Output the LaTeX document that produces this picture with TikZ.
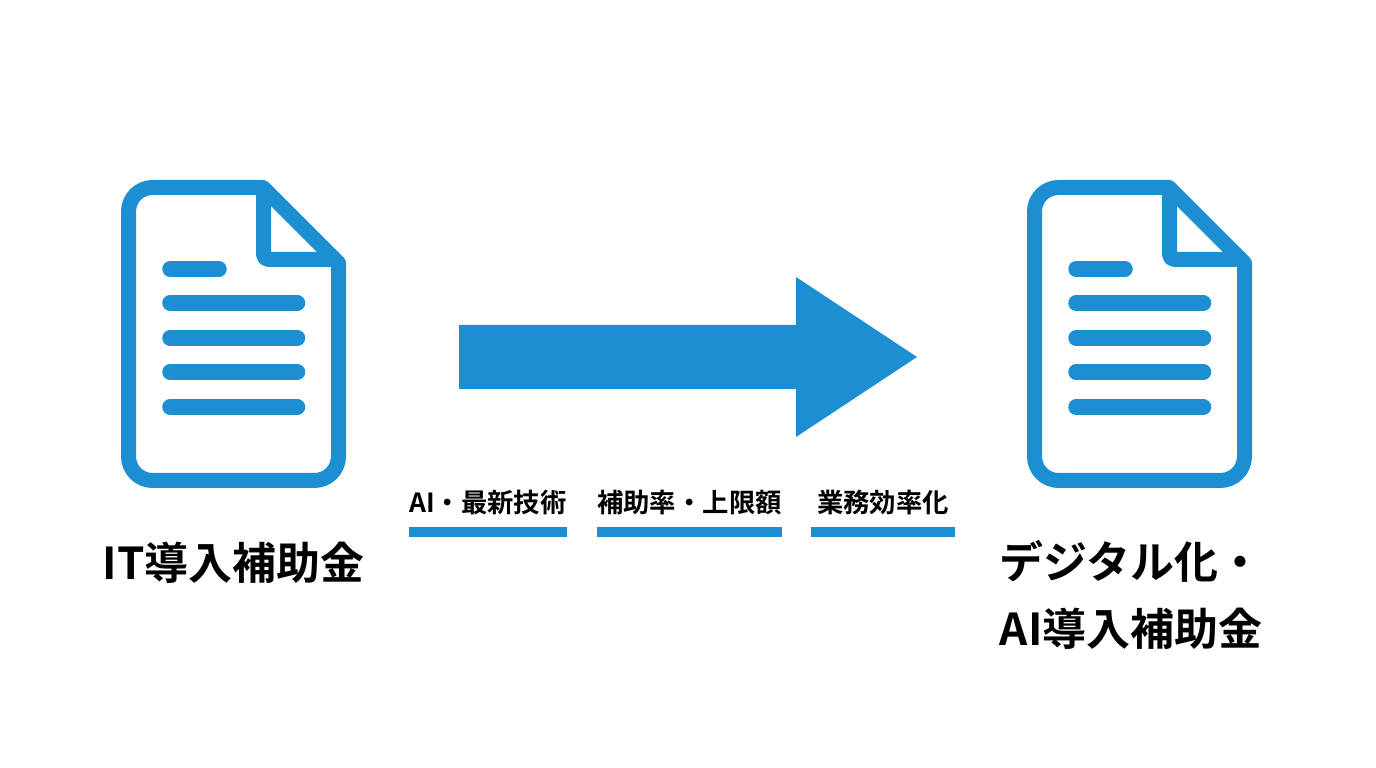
\documentclass[tikz,border=0pt]{standalone}
\usepackage{xcolor}
\usepackage{fontspec}
\setmainfont{Noto Sans CJK JP Bold}
\definecolor{docblue}{HTML}{1C8FD3}
\tikzset{
	docline/.style={draw=docblue, line width=0.155cm, line cap=round},
	docframe/.style={draw=docblue, line width=0.15cm, line join=round},
	biglabel/.style={text=black, inner sep=0pt, align=center, font=\fontsize{12.5pt}{19.3pt}\selectfont},
	smalllabel/.style={text=black, inner sep=0pt, font=\fontsize{7.5pt}{9pt}\selectfont},
	underbar/.style={fill=docblue, draw=none}
}

\begin{document}
\begin{tikzpicture}
			\useasboundingbox (0, 0) rectangle (13.76, 7.68);
			
			%Documents
			\foreach \dx in {0, 9.06} {
				\begin{scope}[xshift=\dx cm]
					\draw[docframe] (2.63, 5.805) [sharp corners] -- (3.385, 5.05) [rounded corners=0.24cm] -- (3.385, 2.875) -- (1.285, 2.875) -- (1.285, 5.805) [sharp corners] -- cycle;
					\draw[docframe, rounded corners=0.05cm] (2.635, 5.805) -- (2.635, 5.085) -- (3.385, 5.085);
					
					%Lines
					\draw[docline] (1.70, 4.99) -- (2.19, 4.99);
					\foreach \y in {4.65, 4.30, 3.96, 3.61} {
						\draw[docline] (1.70, \y) -- (2.975, \y);
					}
				\end{scope}
			}
			
			%Arrow
			\fill[docblue] (4.59, 4.43) -- (7.96, 4.43) -- (7.96, 4.91) -- (9.17, 4.11) -- (7.96, 3.31) -- (7.96, 3.79) -- (4.59, 3.79) -- cycle;
			
			%Labels
			\node[smalllabel] (tech) at (4.88, 2.65) {AI・最新技術};
			\node[smalllabel] (rate) at (6.895, 2.65) {補助率・上限額};
			\node[smalllabel] (work) at (8.83, 2.65) {業務効率化};
			
			%Bars
			\fill[underbar] (4.09, 2.41) rectangle (5.67, 2.31);
			\fill[underbar] (5.97, 2.41) rectangle (7.82, 2.31);
			\fill[underbar] (8.11, 2.41) rectangle (9.55, 2.31);
			
			%Titles
			\node[biglabel] (before) at (2.335, 2.05) {IT導入補助金};
			\node[biglabel] (after) at (11.31, 1.73) {デジタル化・\\AI導入補助金};
			\end{tikzpicture}
\end{document}
